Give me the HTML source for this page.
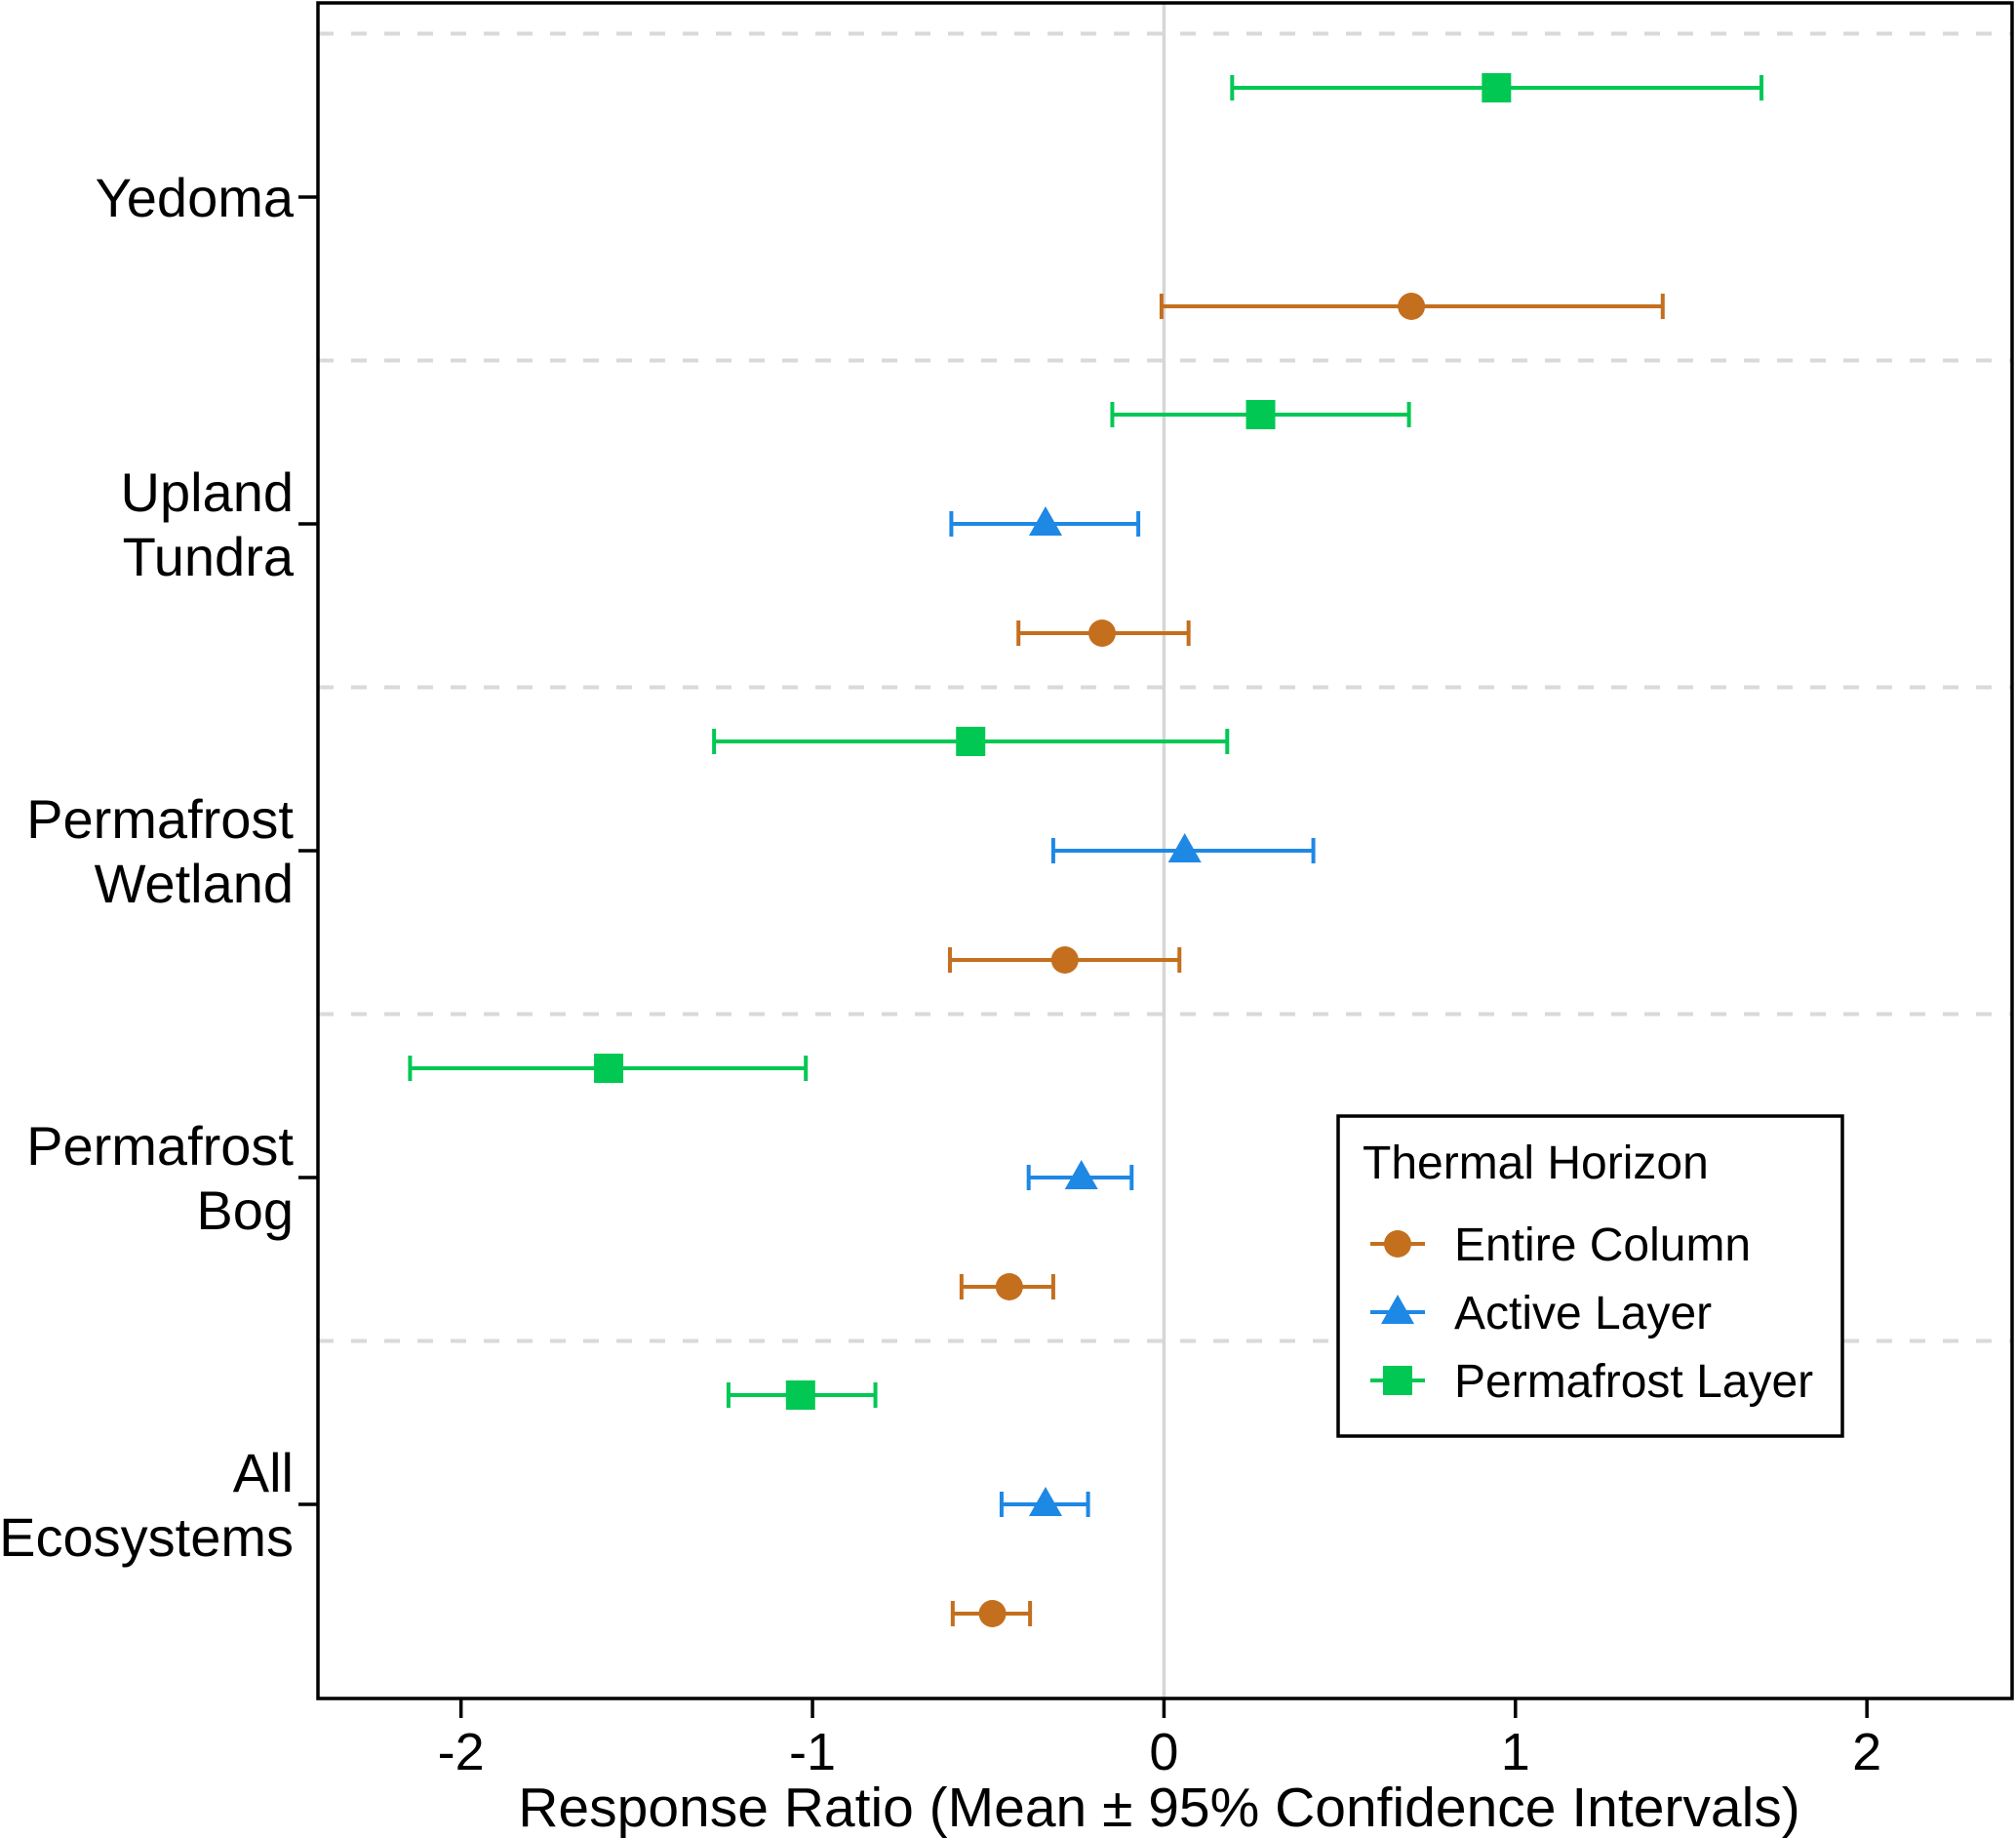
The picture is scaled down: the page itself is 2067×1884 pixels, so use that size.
<!DOCTYPE html>
<html><head><meta charset="utf-8"><style>
html,body{margin:0;padding:0;background:#fff;}
svg{display:block;font-family:"Liberation Sans",Arial,sans-serif;}
</style></head><body>
<svg id="chart" width="2067" height="1884" viewBox="0 0 2067 1884" xmlns="http://www.w3.org/2000/svg">
<g id="grid"></g>
<g id="marks"></g>
<g id="axes"></g>
<g id="legend"></g>
</svg>
<script>
const categories = ["Yedoma","Upland Tundra","Permafrost Wetland","Permafrost Bog","All Ecosystems"];
const seriesNames = ["Permafrost Layer","Active Layer","Entire Column"];
const permMean = [0.946, 0.275, -0.550, -1.580, -1.034];
const permLo   = [0.194, -0.147, -1.280, -2.145, -1.239];
const permHi   = [1.700, 0.697, 0.180, -1.019, -0.821];
const actMean  = [null, -0.337, 0.059, -0.235, -0.337];
const actLo    = [null, -0.605, -0.315, -0.385, -0.462];
const actHi    = [null, -0.073, 0.425, -0.092, -0.216];
const entMean  = [0.704, -0.176, -0.282, -0.440, -0.488];
const entLo    = [-0.007, -0.414, -0.609, -0.576, -0.601];
const entHi    = [1.419, 0.070, 0.044, -0.315, -0.381];
const xTicks = [-2,-1,0,1,2];
const xTickLabels = ["-2","-1","0","1","2"];

const NS="http://www.w3.org/2000/svg";
const L=326,R=2063,T=3,B=1741;
const xMin=-2.407,xMax=2.413;
const X=v=>L+(v-xMin)/(xMax-xMin)*(R-L);
const catY0=202,catStep=335,sub=112;
const Y=(i,off)=>catY0+i*catStep+off;
function mk(tag,attrs,parent,text){const e=document.createElementNS(NS,tag);for(const k in attrs)e.setAttribute(k,attrs[k]);if(text!=null)e.textContent=text;parent.appendChild(e);return e;}
const grid=document.getElementById('grid'),marks=document.getElementById('marks'),axes=document.getElementById('axes'),legend=document.getElementById('legend');

for(let i=0;i<=categories.length-1;i++){
  const y=catY0+(i-0.5)*catStep;
  const ln=mk('line',{x1:L,x2:R,y1:y,y2:y,stroke:'#d9d9d9','stroke-width':4,'stroke-dasharray':'16,18'},grid);
  
  
}
const zl=mk('line',{x1:X(0),x2:X(0),y1:T,y2:B,stroke:'#d6d6d6','stroke-width':3.5},grid);



const colors={"Entire Column":"#C46F1E","Active Layer":"#1E88E5","Permafrost Layer":"#00C853"};
function marker(shape,cx,cy,col,parent){
  let e;
  if(shape==='circle') e=mk('circle',{cx:cx,cy:cy,r:14,fill:col},parent);
  else if(shape==='square') e=mk('rect',{x:cx-15,y:cy-15,width:30,height:30,fill:col},parent);
  else e=mk('polygon',{points:`${cx},${cy-18} ${cx+17},${cy+12} ${cx-17},${cy+12}`,fill:col},parent);
  return e;
}
function drawSeries(name,mean,lo,hi,off,shape){
  const col=colors[name];
  for(let i=0;i<categories.length;i++){
    if(mean[i]==null)continue;
    const y=Y(i,off);
    const g=mk('g',{},marks);
    
    
    mk('line',{x1:X(lo[i]),x2:X(hi[i]),y1:y,y2:y,stroke:col,'stroke-width':4},g);
    mk('line',{x1:X(lo[i]),x2:X(lo[i]),y1:y-13,y2:y+13,stroke:col,'stroke-width':4},g);
    mk('line',{x1:X(hi[i]),x2:X(hi[i]),y1:y-13,y2:y+13,stroke:col,'stroke-width':4},g);
    const m=marker(shape,X(mean[i]),y,col,g);
    
    
  }
}
drawSeries("Permafrost Layer",permMean,permLo,permHi,-sub,'square');
drawSeries("Active Layer",actMean,actLo,actHi,0,'triangle');
drawSeries("Entire Column",entMean,entLo,entHi,sub,'circle');

const pb=mk('rect',{x:L,y:T,width:R-L,height:B-T,fill:'none',stroke:'#000','stroke-width':3.5},axes);



for(let i=0;i<xTicks.length;i++){
  const x=X(xTicks[i]);
  mk('line',{x1:x,x2:x,y1:B,y2:B+20,stroke:'#000','stroke-width':3.5},axes);
  const t=mk('text',{x:x,y:B+73,'text-anchor':'middle','font-size':54,fill:'#000'},axes,xTickLabels[i]);
  
  
}
const xt=mk('text',{x:(L+R)/2-6,y:1872,'text-anchor':'middle','font-size':57,fill:'#000'},axes,'Response Ratio (Mean \u00b1 95% Confidence Intervals)');



for(let i=0;i<categories.length;i++){
  const y=Y(i,0);
  mk('line',{x1:L-20,x2:L,y1:y,y2:y,stroke:'#000','stroke-width':3.5},axes);
  const words=categories[i].split(' ');
  const t=mk('text',{x:301,'text-anchor':'end','font-size':56,fill:'#000'},axes);
  
  
  if(words.length===1){mk('tspan',{x:301,y:y+20},t,words[0]);}
  else{mk('tspan',{x:301,y:y-13},t,words[0]);mk('tspan',{x:301,y:y+53},t,words[1]);}
}

const lb=mk('rect',{x:1372,y:1144,width:517,height:328,fill:'#fff',stroke:'#000','stroke-width':3.5},legend);


const lt=mk('text',{x:1397,y:1208,'font-size':48,fill:'#000'},legend,'Thermal Horizon');


const legItems=[["Entire Column",'circle',1275],["Active Layer",'triangle',1345],["Permafrost Layer",'square',1415]];
legItems.forEach(it=>{
  const g=mk('g',{},legend);
  
  
  const col=colors[it[0]];
  mk('line',{x1:1405,x2:1461,y1:it[2],y2:it[2],stroke:col,'stroke-width':4},g);
  marker(it[1],1433,it[2],col,g);
  mk('text',{x:1491,y:it[2]+17,'font-size':48,fill:'#000'},g,it[0]);
});
</script>
</body></html>
